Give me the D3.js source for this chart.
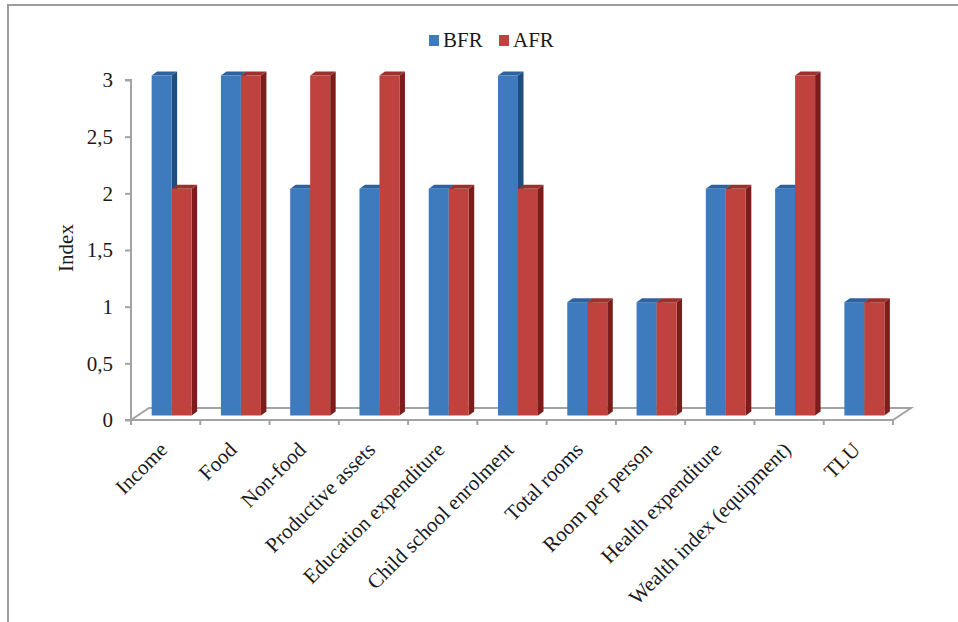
<!DOCTYPE html>
<html>
<head>
<meta charset="utf-8">
<script src="https://cdn.jsdelivr.net/npm/d3@7/dist/d3.min.js"></script>
<style>
  html, body { margin: 0; padding: 0; background: #fff; }
  svg { display: block; }
  text { font-family: "Liberation Serif", "Times New Roman", serif; fill: #1a1a1a; }
</style>
</head>
<body>
<svg id="chart" width="958" height="622"></svg>
<script>
// Indicator categories and the two series (before / after)
const categories = [
  "Income", "Food", "Non-food", "Productive assets", "Education expenditure",
  "Child school enrolment", "Total rooms", "Room per person",
  "Health expenditure", "Wealth index (equipment)", "TLU"
];
const seriesNames = ["BFR", "AFR"];
const bfrValues = [3, 3, 2, 2, 2, 3, 1, 1, 2, 2, 1];
const afrValues = [2, 3, 3, 3, 2, 2, 1, 1, 2, 3, 1];
const yTicks = [0, 0.5, 1, 1.5, 2, 2.5, 3];
const yTickLabels = ["0", "0,5", "1", "1,5", "2", "2,5", "3"];

const colors = {
  BFR: { front: "#3e7bbe", side: "#1f4d7d", top: "#2e629f" },
  AFR: { front: "#bf423f", side: "#7a1d1b", top: "#9b302d" }
};

const FONT = "'Liberation Serif', 'Times New Roman', serif";
const svg = d3.select("#chart");
const axisColor = "#a3a3a3";

// Outer frame (top and left edges)
svg.append("path")
  .attr("d", "M8,622 L8,5 L958,5")
  .attr("fill", "none").attr("stroke", "#9c9c9c").attr("stroke-width", 2);

// Scales
const x0 = d3.scaleBand().domain(categories).range([131, 893]).paddingInner(0).paddingOuter(0);
const x1 = d3.scaleBand().domain(seriesNames).range([0, 40]);
const y = d3.scaleLinear().domain([0, 3]).range([420, 80]);

// Floor depth and bar depth offsets
const floorDx = 18, floorDy = -12;
const barShiftX = 6, barShiftY = -4.5;
const depthDx = 5.5, depthDy = -4;

// Floor parallelogram
const fx0 = x0.range()[0], fx1 = x0.range()[1], fy = y(0);
svg.append("path")
  .attr("d", `M${fx0},${fy} L${fx1},${fy} L${fx1 + floorDx},${fy + floorDy} L${fx0 + floorDx},${fy + floorDy} Z`)
  .attr("fill", "none").attr("stroke", axisColor).attr("stroke-width", 2);

// Category tick marks on the front edge of the floor
const boundaries = categories.map(c => x0(c)).concat([fx1]);
svg.append("g").selectAll("line").data(boundaries).join("line")
  .attr("x1", d => d).attr("x2", d => d)
  .attr("y1", fy).attr("y2", fy + 5)
  .attr("stroke", axisColor).attr("stroke-width", 2);

// Y axis
const yAxis = d3.axisLeft(y)
  .tickValues(yTicks)
  .tickFormat((d, i) => yTickLabels[i])
  .tickSize(6)
  .tickPadding(12);
const yg = svg.append("g").attr("transform", `translate(${fx0},0)`).call(yAxis)
  .attr("font-family", FONT).attr("font-size", 21);
yg.select(".domain").attr("stroke", axisColor).attr("stroke-width", 2).attr("d", `M-6,${y(3)}H0V${y(0)}H-6`);
yg.selectAll(".tick line").attr("stroke", axisColor).attr("stroke-width", 2);
yg.selectAll(".tick text").attr("fill", "#1a1a1a");

// Y axis title
svg.append("text")
  .attr("transform", "translate(73,248) rotate(-90)")
  .attr("text-anchor", "middle")
  .attr("font-size", 21)
  .text("Index");

// 3D bars
const rows = categories.map((c, i) => ({ cat: c, BFR: bfrValues[i], AFR: afrValues[i] }));
const bars = [];
rows.forEach(r => seriesNames.forEach(s => bars.push({ cat: r.cat, series: s, value: r[s] })));

const barG = svg.append("g");
bars.forEach(b => {
  const xl = x0(b.cat) + (x0.bandwidth() - 40) / 2 + x1(b.series) + barShiftX;
  const xr = xl + x1.bandwidth();
  const yt = y(b.value) + barShiftY;
  const yb = y(0) + barShiftY;
  const col = colors[b.series];
  const g = barG.append("g");
  // side face
  g.append("path")
    .attr("d", `M${xr},${yt} L${xr + depthDx},${yt + depthDy} L${xr + depthDx},${yb + depthDy} L${xr},${yb} Z`)
    .attr("fill", col.side);
  // top face
  g.append("path")
    .attr("d", `M${xl},${yt} L${xl + depthDx},${yt + depthDy} L${xr + depthDx},${yt + depthDy} L${xr},${yt} Z`)
    .attr("fill", col.top);
  // front face
  g.append("rect")
    .attr("x", xl).attr("y", yt)
    .attr("width", xr - xl).attr("height", yb - yt)
    .attr("fill", col.front);
});

// Category labels, rotated
svg.append("g").selectAll("text").data(categories).join("text")
  .attr("transform", d => `translate(${x0(d) + x0.bandwidth() / 2 + 3},${fy + 31}) rotate(-45)`)
  .attr("text-anchor", "end")
  .attr("font-size", 21)
  .text(d => d);

// Legend
const legend = svg.append("g");
const legendItems = [
  { name: "BFR", x: 429 },
  { name: "AFR", x: 499 }
];
legendItems.forEach(it => {
  legend.append("rect").attr("x", it.x).attr("y", 35).attr("width", 10).attr("height", 11)
    .attr("fill", colors[it.name].front);
  legend.append("text").attr("x", it.x + 14).attr("y", 47).attr("font-size", 21).text(it.name);
});
</script>
</body>
</html>
